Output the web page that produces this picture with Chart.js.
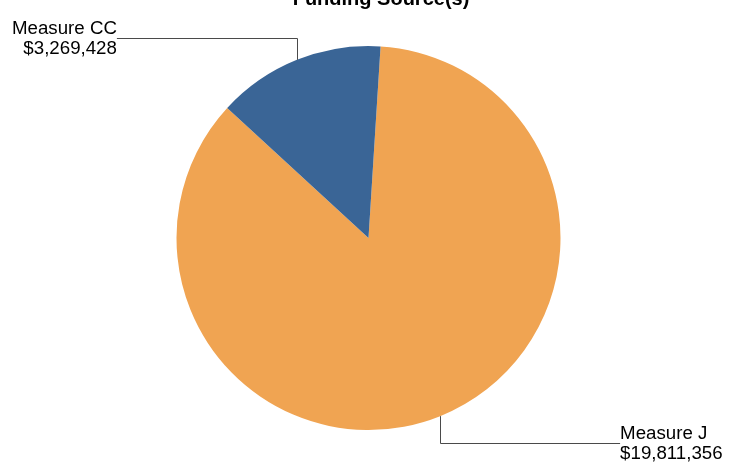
<!DOCTYPE html>
<html>
<head>
<meta charset="utf-8">
<script src="https://cdn.jsdelivr.net/npm/chart.js@4"></script>
<style>
  body { margin: 0; background: #fff; }
  canvas { display: block; }
</style>
</head>
<body>
<canvas id="pie-chartcanvas" width="737" height="462"></canvas>
<script>
var titleText = "Funding Source(s)";
var labels = ["Measure J", "Measure CC"];
var values = [19811356, 3269428];
var colors = ["#F0A452", "#3A6596"];

function money(v) {
    return "$" + v.toLocaleString("en-US");
}

// title + leader lines with labels
var calloutPlugin = {
    id: "callouts",
    afterDraw: function(chart) {
        var ctx = chart.ctx;
        ctx.save();
        ctx.fillStyle = "#000";
        ctx.font = "bold 20px 'Liberation Sans', Arial, sans-serif";
        ctx.textAlign = "center";
        ctx.textBaseline = "alphabetic";
        ctx.fillText(titleText, 381, 5);

        var arcs = chart.getDatasetMeta(0).data;
        ctx.strokeStyle = "#4a4a4a";
        ctx.lineWidth = 1;
        ctx.font = "18.7px 'Liberation Sans', Arial, sans-serif";
        ctx.textBaseline = "middle";
        for (var i = 0; i < arcs.length; i++) {
            var p = arcs[i].getProps(["x", "y", "startAngle", "endAngle", "outerRadius"], true);
            var mid = (p.startAngle + p.endAngle) / 2;
            var ex = p.x + Math.cos(mid) * p.outerRadius;
            var ey = p.y + Math.sin(mid) * p.outerRadius;
            var top = ey < p.y;
            var ly = top ? p.y - p.outerRadius - 8 : p.y + p.outerRadius + 13;
            var dir = ex < p.x ? -1 : 1;
            var lx = ex + dir * 180;
            ctx.beginPath();
            ctx.moveTo(Math.round(ex) + 0.5, ey);
            ctx.lineTo(Math.round(ex) + 0.5, Math.round(ly) + 0.5);
            ctx.lineTo(lx, Math.round(ly) + 0.5);
            ctx.stroke();
            ctx.textAlign = dir < 0 ? "right" : "left";
            ctx.fillText(labels[i], lx, ly - 9);
            ctx.fillText(money(values[i]), lx, ly + 11);
        }
        ctx.restore();
    }
};

var ctx1 = document.getElementById("pie-chartcanvas");
var chart1 = new Chart(ctx1, {
    type: "pie",
    data: {
        labels: labels,
        datasets: [{
            data: values,
            backgroundColor: colors,
            borderWidth: 0
        }]
    },
    options: {
        responsive: false,
        animation: false,
        rotation: 3.6,
        layout: { padding: { top: 46, bottom: 32, left: 0, right: 0 } },
        plugins: {
            legend: { display: false },
            tooltip: { enabled: false }
        }
    },
    plugins: [calloutPlugin]
});
</script>
</body>
</html>
